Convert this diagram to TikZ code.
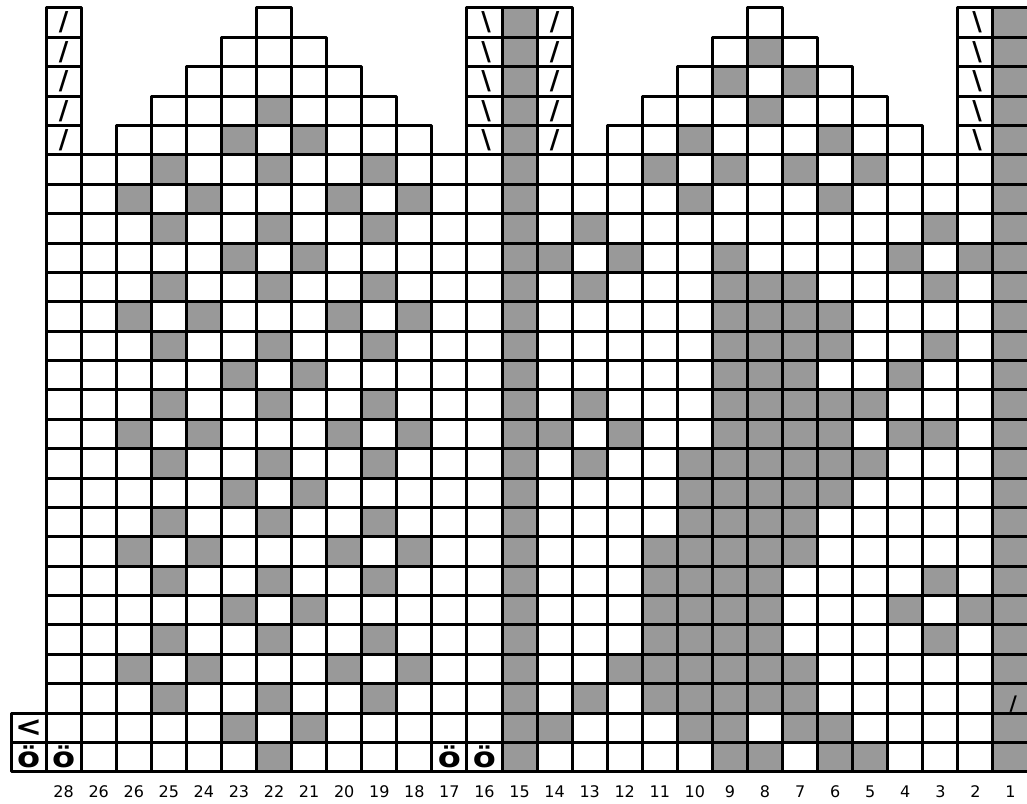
\documentclass[tikz,border=0pt]{standalone}
\usepackage{fontspec}
\setmainfont{DejaVu Sans}
\usepackage{graphicx}
\usepackage{xcolor}
\usepackage{tikz}

\definecolor{cellgray}{HTML}{999999}

\begin{document}
\begin{tikzpicture}[
    x=35.07pt,
    y=-29.38pt,
    cell/.style={
        draw=black,
        line width=3pt,
        line join=round
    },
    shaded/.style={
        fill=cellgray
    },
    sym/.style={
        inner sep=0pt,
        font=\bfseries\fontsize{26}{26}\selectfont
    },
    knot/.style={
        inner sep=0pt,
        font=\bfseries\fontsize{28}{28}\selectfont
    },
    num/.style={
        inner sep=0pt,
        anchor=base,
        font=\fontsize{16}{16}\selectfont
    }
]
\useasboundingbox (-1.314,-0.2723) rectangle (27.97,27.06);

% Shaded stitches
\foreach \r/\cols in {
    1/{14,28},
    2/{14,21,28},
    3/{14,20,22,28},
    4/{7,14,21,28},
    5/{6,8,14,19,23,28},
    6/{4,7,10,14,18,20,22,24,28},
    7/{3,5,9,11,14,19,23,28},
    8/{4,7,10,14,16,26,28},
    9/{6,8,14,15,17,20,25,27,28},
    10/{4,7,10,14,16,20,21,22,26,28},
    11/{3,5,9,11,14,20,21,22,23,28},
    12/{4,7,10,14,20,21,22,23,26,28},
    13/{6,8,14,20,21,22,25,28},
    14/{4,7,10,14,16,20,21,22,23,24,28},
    15/{3,5,9,11,14,15,17,20,21,22,23,25,26,28},
    16/{4,7,10,14,16,19,20,21,22,23,24,28},
    17/{6,8,14,19,20,21,22,23,28},
    18/{4,7,10,14,19,20,21,22,28},
    19/{3,5,9,11,14,18,19,20,21,22,28},
    20/{4,7,10,14,18,19,20,21,26,28},
    21/{6,8,14,18,19,20,21,25,27,28},
    22/{4,7,10,14,18,19,20,21,26,28},
    23/{3,5,9,11,14,17,18,19,20,21,22,28},
    24/{4,7,10,14,16,18,19,20,21,22,28},
    25/{6,8,14,15,19,20,22,23,28},
    26/{7,14,20,21,23,24,28}}
    \foreach \c in \cols
        \fill[shaded] (\c-1,\r-1) rectangle ++(1,1);

% Grid (column / first row)
\foreach \c/\s in {1/1, 2/6, 3/5, 4/4, 5/3, 6/2, 7/1, 8/2, 9/3, 10/4,
    11/5, 12/6, 13/1, 14/1, 15/1, 16/6, 17/5, 18/4, 19/3, 20/2, 21/1,
    22/2, 23/3, 24/4, 25/5, 26/6, 27/1, 28/1}
    \foreach \r in {\s,...,26}
        \draw[cell] (\c-1,\r-1) rectangle ++(1,1);
\draw[cell] (-1,24) rectangle ++(1,1);
\draw[cell] (-1,25) rectangle ++(1,1);

% Decreases
\foreach \r in {1,...,5} {
    \node[sym] (deca\r) at (0.5,\r-0.5) {/};
    \node[sym] (decb\r) at (12.55,\r-0.5) {\textbackslash};
    \node[sym] (decc\r) at (14.5,\r-0.5) {/};
    \node[sym] (decd\r) at (26.55,\r-0.5) {\textbackslash};
}
\node[sym, font=\bfseries\fontsize{20}{20}\selectfont] (dece) at (27.58,23.68) {/};

% Turn and bobbles
\node[knot] (turn) at (-0.5,24.52) {\scalebox{1.15}[1]{<}};
\node[knot] (boba) at (-0.5,25.48) {\scalebox{1.2}[1]{ö}};
\node[knot] (bobb) at (0.5,25.48) {\scalebox{1.2}[1]{ö}};
\node[knot] (bobc) at (11.5,25.48) {\scalebox{1.2}[1]{ö}};
\node[knot] (bobd) at (12.5,25.48) {\scalebox{1.2}[1]{ö}};

% Stitch numbers
\foreach \lab [count=\i] in {28,26,26,25,24,23,22,21,20,19,18,17,16,15,
    14,13,12,11,10,9,8,7,6,5,4,3,2,1}
    \node[num] (n\i) at (\i-0.5,26.86) {\lab};

\end{tikzpicture}
\end{document}
